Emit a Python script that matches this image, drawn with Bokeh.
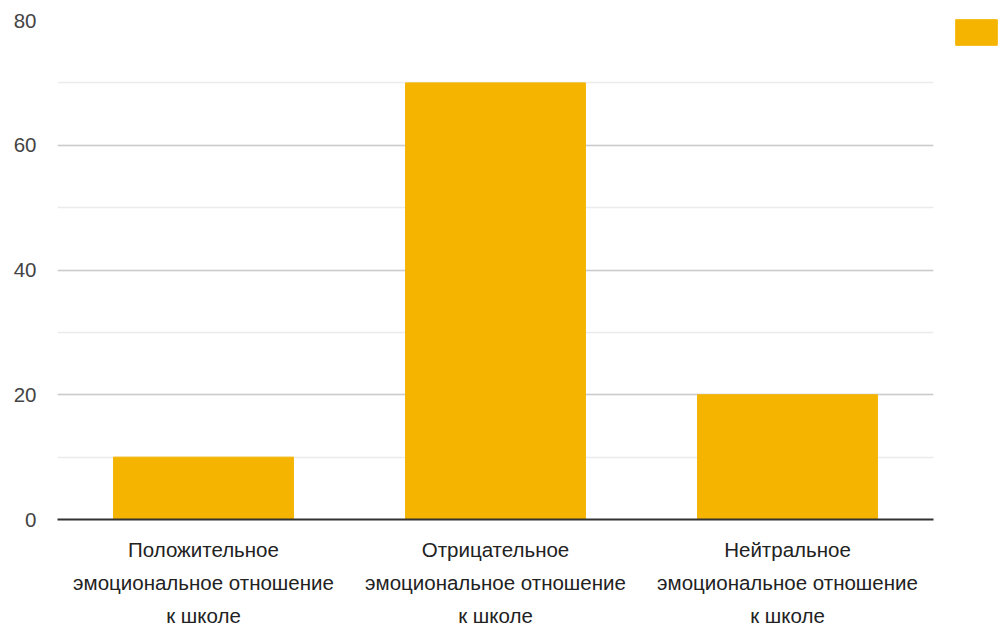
from bokeh.plotting import figure
from bokeh.models import (ColumnDataSource, FactorRange, Range1d, SingleIntervalTicker,
                          Legend, LegendItem)
from bokeh.embed import file_html
from bokeh.resources import INLINE

# Share of pupils by emotional attitude towards school
categories = [
    "Положительное\nэмоциональное отношение\nк школе",
    "Отрицательное\nэмоциональное отношение\nк школе",
    "Нейтральное\nэмоциональное отношение\nк школе",
]
values = [10, 70, 20]

BAR = "#f4b400"
FONT = "Liberation Sans"

src = ColumnDataSource(dict(cat=categories, val=values))

p = figure(
    x_range=FactorRange(*categories, range_padding=0),
    y_range=Range1d(0, 80),
    frame_width=876, frame_height=499,
    min_border_left=57, min_border_top=20, min_border_bottom=5, min_border_right=66,
    output_backend="svg", toolbar_location=None,
    background_fill_color="white", border_fill_color="white",
    outline_line_color=None,
)

r = p.vbar(x="cat", top="val", width=0.616, source=src,
           fill_color=BAR, line_color=BAR)

# y axis: labels only, every 20, lighter minor lines at the halfway marks
ticker = SingleIntervalTicker(interval=20, num_minor_ticks=2)
p.yaxis.ticker = ticker
p.yaxis.axis_line_color = None
p.yaxis.major_tick_line_color = None
p.yaxis.minor_tick_line_color = None
p.yaxis.major_label_text_font = FONT
p.yaxis.major_label_text_font_size = "20.5px"
p.yaxis.major_label_text_color = "#444444"
p.yaxis.major_label_standoff = 15

p.ygrid.ticker = ticker
p.ygrid.grid_line_color = "#cccccc"
p.ygrid.grid_line_width = 1.5
p.ygrid.minor_grid_line_color = "#ebebeb"
p.ygrid.minor_grid_line_width = 1.5
p.xgrid.grid_line_color = None

# x axis: dark baseline, three-line category labels
p.xaxis.axis_line_color = "#333333"
p.xaxis.axis_line_width = 2
p.xaxis.major_tick_line_color = None
p.xaxis.minor_tick_line_color = None
p.xaxis.major_label_text_font = FONT
p.xaxis.major_label_text_font_size = "20.5px"
p.xaxis.major_label_text_color = "#222222"
p.xaxis.major_label_text_line_height = 1.45
p.xaxis.major_label_standoff = 12

# unlabeled series swatch, to the right of the plot area
legend = Legend(
    items=[LegendItem(label="", renderers=[r])],
    location=(17, 471),
    glyph_width=52, glyph_height=32,
    label_standoff=0, label_width=0, label_height=32,
    padding=0, margin=0, spacing=0,
    border_line_color=None, background_fill_alpha=0,
)
p.add_layout(legend, "right")

open("out.html", "w").write(file_html(p, INLINE))
